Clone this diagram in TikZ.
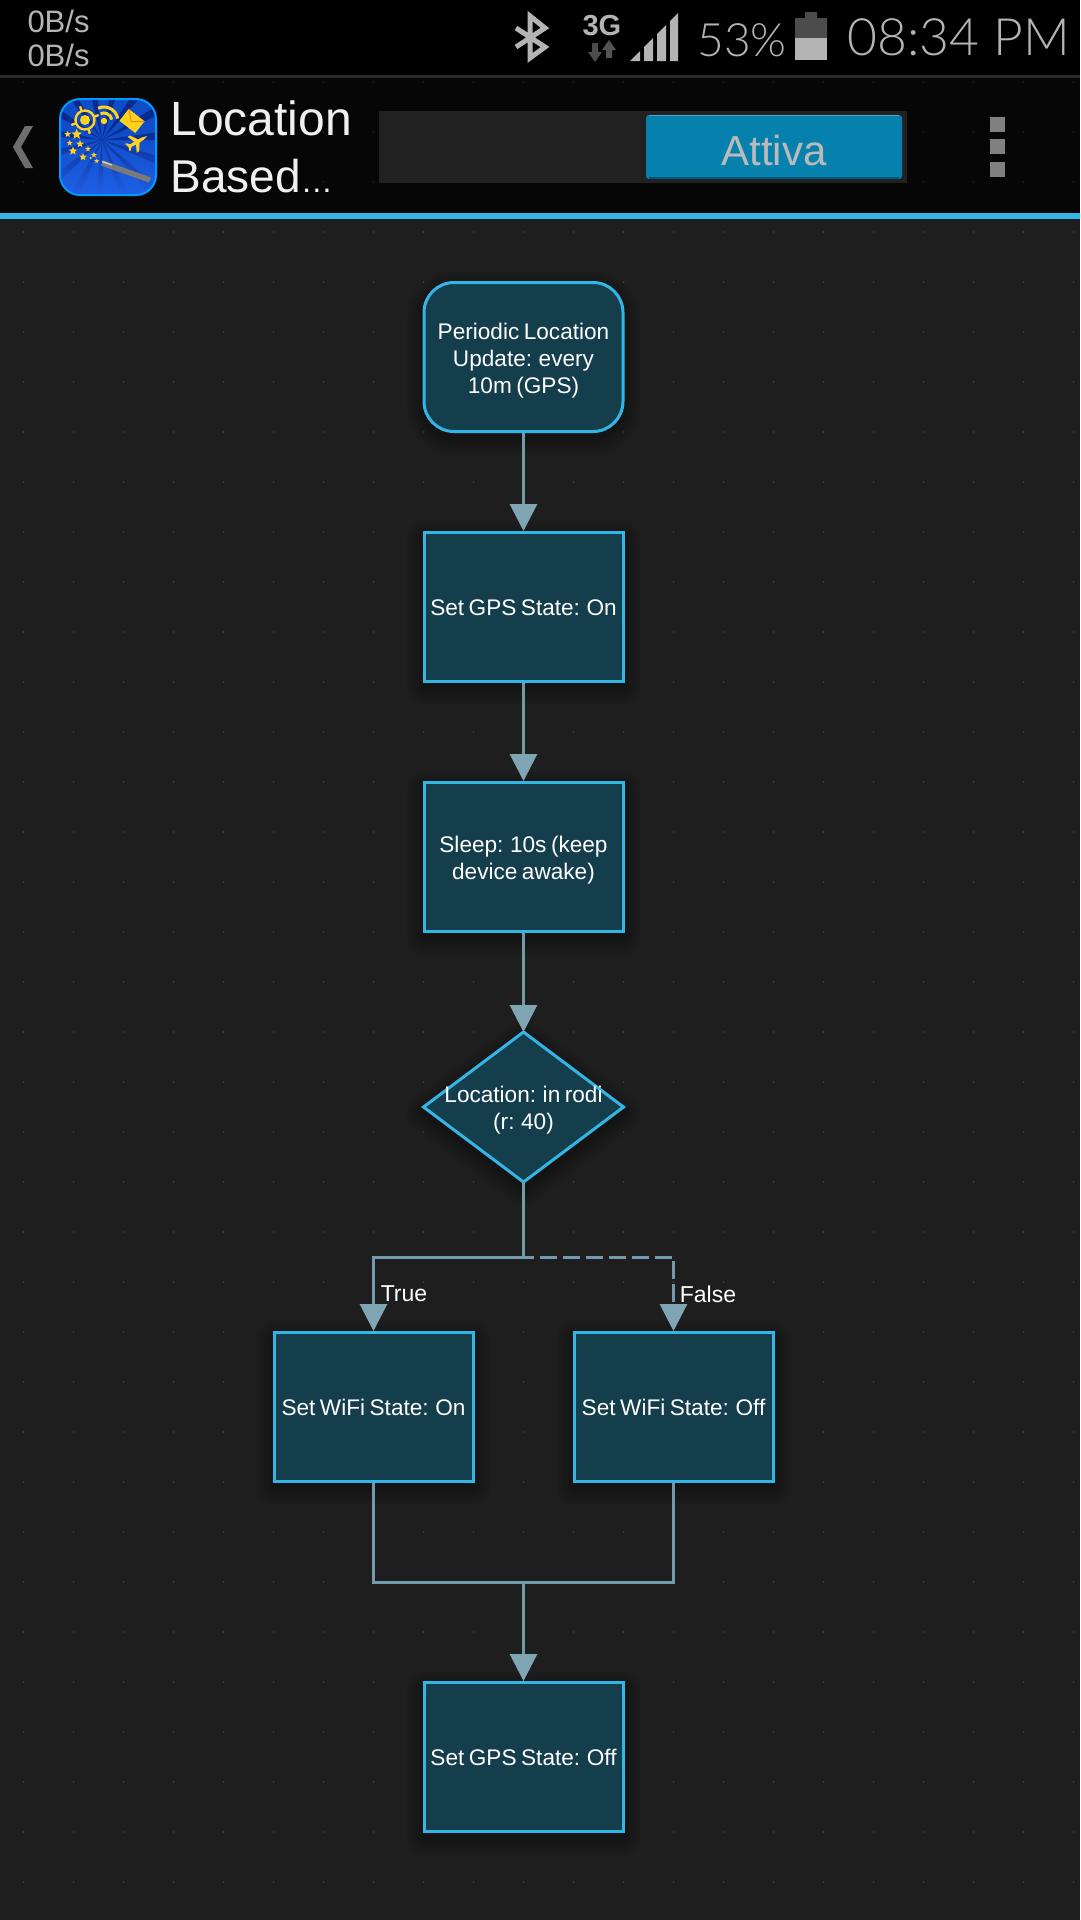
\documentclass[tikz,border=0pt]{standalone}
\usepackage{fontspec}
\setmainfont[WordSpace=0.72]{Liberation Sans}
\newfontfamily\lightfont{Lato Light}
\usetikzlibrary{shapes,arrows.meta,fadings}
\definecolor{canvas}{HTML}{1E1E1E}
\definecolor{boxfill}{HTML}{153E4D}
\definecolor{holoblue}{HTML}{33B5E5}
\definecolor{wire}{HTML}{729AAB}
\definecolor{wiretip}{HTML}{7FA5B5}
\definecolor{barfill}{HTML}{060606}
\definecolor{statusgray}{HTML}{B4B4B4}
\definecolor{togglefill}{HTML}{0680AD}
\definecolor{gold}{HTML}{FFD21E}
\definecolor{iconblue}{HTML}{0F4CC8}
\definecolor{iconlow}{HTML}{2060E6}
\definecolor{iconray}{HTML}{0A2A8E}
\tikzset{
	shadowlayer/.style = {preaction = {draw = black, draw opacity = 0.05, line width = #1,
		line join = round, transform canvas = {yshift = -6pt}}},
	softshadow/.style = {shadowlayer = 34pt, shadowlayer = 27pt, shadowlayer = 20pt,
		shadowlayer = 13pt, shadowlayer = 7pt},
	linedown/.style   = {execute at begin node = {\rule{0pt}{#1}}},
	basebox/.style    = {draw = holoblue, fill = boxfill, line width = 3pt, rectangle,
		minimum width = 199pt, minimum height = 149pt, inner sep = 0pt, softshadow,
		text = white, align = center, font = \fontsize{22.6}{27}\selectfont},
	opbox/.style      = {basebox, linedown = 49pt},
	onelinebox/.style = {basebox, linedown = 18pt},
	startbox/.style   = {basebox, rounded corners = 30pt, linedown = 78.5pt},
	testbox/.style    = {draw = holoblue, fill = boxfill, line width = 3pt, diamond,
		minimum width = 200pt, minimum height = 150pt, inner sep = 0pt, outer sep = 0pt, softshadow},
	boxtext/.style    = {text = white, align = center, linedown = 49pt, font = \fontsize{22.6}{27}\selectfont},
	edgetext/.style   = {text = white, inner sep = 0pt, font = \fontsize{23}{27}\selectfont},
	bartext/.style    = {text = statusgray, inner sep = 0pt, anchor = base west},
	titletext/.style  = {text = white!94!black, inner sep = 0pt, anchor = base west, font = \fontsize{48}{48}\selectfont},
	togglebox/.style  = {fill = togglefill, rounded corners = 3pt, minimum width = 256pt, minimum height = 64pt,
		inner sep = 0pt, outer sep = 0pt, text = white!73!black, linedown = 37pt, font = \fontsize{42}{42}\selectfont},
	starmark/.style   = {star, star points = 5, star point ratio = 2.3, fill = gold,
		inner sep = 0pt, draw = none}
}
\begin{document}
\begin{tikzpicture}[x=1pt, y=-1pt, line width=3pt, draw=wire,
	>={Triangle[length=27pt, width=27pt, color=wiretip, fill=wiretip]}]
	\useasboundingbox (0,0) rectangle (1080,1920);
	\fill[canvas] (0,0) rectangle (1080,1920);
	\fill[black] (0,0) rectangle (1080,75);
	\fill[barfill] (0,78) rectangle (1080,213);
	\fill[white!16!black] (0,75) rectangle (1080,78);
	\fill[holoblue] (0,213) rectangle (1080,219);
	\fill[white!13!black] (379,111) rectangle (907,183);
	
	% dot grid
	\fill[white!30!black] \foreach \x in {23.5,73.5,...,1073.5} {\foreach \y in {232,282,...,1882} {
		(\x-0.7,\y-0.7) rectangle ++(1.4,1.4)}};
	\fill[white!14!black] \foreach \x in {23.5,73.5,...,1073.5} {\foreach \y in {82,132,182} {
		(\x-0.7,\y-0.7) rectangle ++(1.4,1.4)}};
	
	% status bar
	\draw
	node at (26,32)[bartext, font=\fontsize{31}{31}\selectfont] (upload) {0B/s}
	node at (26,66)[bartext, font=\fontsize{31}{31}\selectfont] (download) {0B/s}
	node at (696,56)[bartext, font=\lightfont\fontsize{46}{46}\selectfont] (battext) {53\%}
	node at (846,55.5)[bartext, font=\lightfont\fontsize{51.5}{51.5}\selectfont] (clock) {08:34 PM}
	node at (581,35)[bartext, font=\bfseries\fontsize{29}{29}\selectfont] (threeg) {3G};
	\draw[statusgray, line width=5pt] (516,47) -- (545,28) -- (530,16) -- (530,58) -- (545,47) -- (516,28);
	\fill[white!30!black] (595,62) -- (588,52) -- (592,52) -- (592,43) -- (598,43) -- (598,52) -- (602,52) -- cycle;
	\fill[white!33!black] (609,40) -- (602,50) -- (606,50) -- (606,58) -- (612,58) -- (612,50) -- (616,50) -- cycle;
	\fill[statusgray] (630,61) -- (640,51) -- (640,61) -- cycle;
	\foreach \a/\b in {644/653,657/666,670/678}
		\fill[statusgray] (\a,61) -- (\a,691-\a) -- (\b,691-\b) -- (\b,61) -- cycle;
	\fill[white!30!black] (805,12) rectangle (817,19) (795,18) rectangle (827,38);
	\fill[statusgray] (795,38) rectangle (827,60);
	
	% action bar
	\fill[white!43!black] (25,126) -- (33,126) -- (21,147) -- (33,168) -- (25,168) -- (13,147) -- cycle;
	\begin{scope}
		\clip[rounded corners=20pt] (60,99) rectangle (156,195);
		\fill[iconblue] (60,99) rectangle (156,195);
		\foreach \r in {0,24,...,336}
			\fill[iconray] (102,140) -- ++(\r:100pt) -- ++(\r+90:14pt) -- cycle;
		\fill[iconlow, path fading=north] (60,130) rectangle (156,195);
	\end{scope}
	\draw[blue!40!cyan, line width=2pt, rounded corners=20pt] (60,99) rectangle (156,195);
	\fill[gold] (85,120) circle (5pt);
	\draw[gold, line width=2.4pt] (85,120) circle (9.5pt);
	\foreach \r in {20,110,200,290}
		\draw[gold, line width=2.4pt] (85,120) ++(\r:9.5pt) -- ++(\r:5pt);
	\fill[gold] (104,121) circle (3.2pt);
	\draw[gold, line width=3pt] (104,121) ++(10:8pt) arc[start angle=10, end angle=115, radius=8pt];
	\draw[gold, line width=3pt] (104,121) ++(10:14pt) arc[start angle=10, end angle=115, radius=14pt];
	\begin{scope}[shift={(132,121)}, rotate=-38]
		\fill[gold] (-10,-7.5) rectangle (10,7.5);
		\draw[orange, line width=1pt] (-10,-7.5) -- (0,1) -- (10,-7.5);
	\end{scope}
	\begin{scope}[shift={(137,142)}, rotate=30, scale=0.7]
		\fill[gold] (17,0) -- (10,-2) -- (3,-2.5) -- (-4,-13) -- (-8,-13) -- (-3,-2.5) -- (-10,-2) -- (-14,-6) -- (-16,-6)
			-- (-14,0) -- (-16,6) -- (-14,6) -- (-10,2) -- (-3,2.5) -- (-8,13) -- (-4,13) -- (3,2.5) -- (10,2) -- cycle;
	\end{scope}
	\foreach \x/\y/\s [count=\n] in {67.7/134.3/7, 76.7/134.3/11, 69.7/143/6, 80/144/8, 73/151/9, 88/149/6, 83/157/8, 94/155/6, 90.7/158/3, 96.7/161/5}
		\node[starmark, minimum size=\s pt] (star\n) at (\x,\y) {};
	\draw[white!48!black, line width=5.5pt] (102,163) -- (150,180);
	\draw[white!80!black, line width=1.5pt] (102,161.5) -- (112,165);
	
	\draw
	node at (169,135)[titletext] (title) {Location}
	node at (169,192)[titletext] (titlemore) {\fontsize{46}{46}\selectfont Based{\fontsize{32}{32}\selectfont …}}
	node at (774,147)[togglebox] (toggle) {Attiva};
	\draw[togglefill!70!white, line width=1.2pt] ([xshift=3pt,yshift=-0.6pt]toggle.north west) -- ([xshift=-3pt,yshift=-0.6pt]toggle.north east);
	\draw[togglefill!65!black, line width=1.5pt] ([xshift=3pt,yshift=0.8pt]toggle.south west) -- ([xshift=-3pt,yshift=0.8pt]toggle.south east);
	\foreach \y in {117,139,162}
		\fill[white!50!black] (990,\y) rectangle (1004.5,\y+15);
	
	% flow nodes
	\draw
	node at (523.5,357)[startbox] (update) {Periodic Location\\Update: every\\10m (GPS)}
	node at (523.5,607)[onelinebox] (gpson) {Set GPS State: On}
	node at (523.5,857)[opbox] (sleep) {Sleep: 10s (keep\\device awake)}
	node at (523.5,1107)[testbox] (location) {}
	node at (523.5,1107)[boxtext] (loctext) {Location: in rodi\\(r: 40)}
	node at (373.5,1407)[onelinebox] (wifion) {Set WiFi State: On}
	node at (673.5,1407)[onelinebox] (wifioff) {Set WiFi State: Off}
	node at (523.5,1757)[onelinebox] (gpsoff) {Set GPS State: Off}
	node at (404,1294)[edgetext] (truelabel) {True}
	node at (708,1294)[edgetext] (falselabel) {False};
	\coordinate (split) at (523.5,1257);
	\coordinate (merge) at (523.5,1582);
	
	\draw[->](update) -- (gpson);
	\draw[->](gpson) -- (sleep);
	\draw[->](sleep) -- (location);
	\draw[-](location) -- (split);
	\draw[->](split) -| (wifion);
	\draw[->, dash pattern=on 17.3pt off 5.7pt, dash phase=6.6pt](split) -| (wifioff);
	\draw[-](wifion) |- (merge);
	\draw[-](wifioff) |- (merge);
	\draw[->](merge) -- (gpsoff);
\end{tikzpicture}
\end{document}
